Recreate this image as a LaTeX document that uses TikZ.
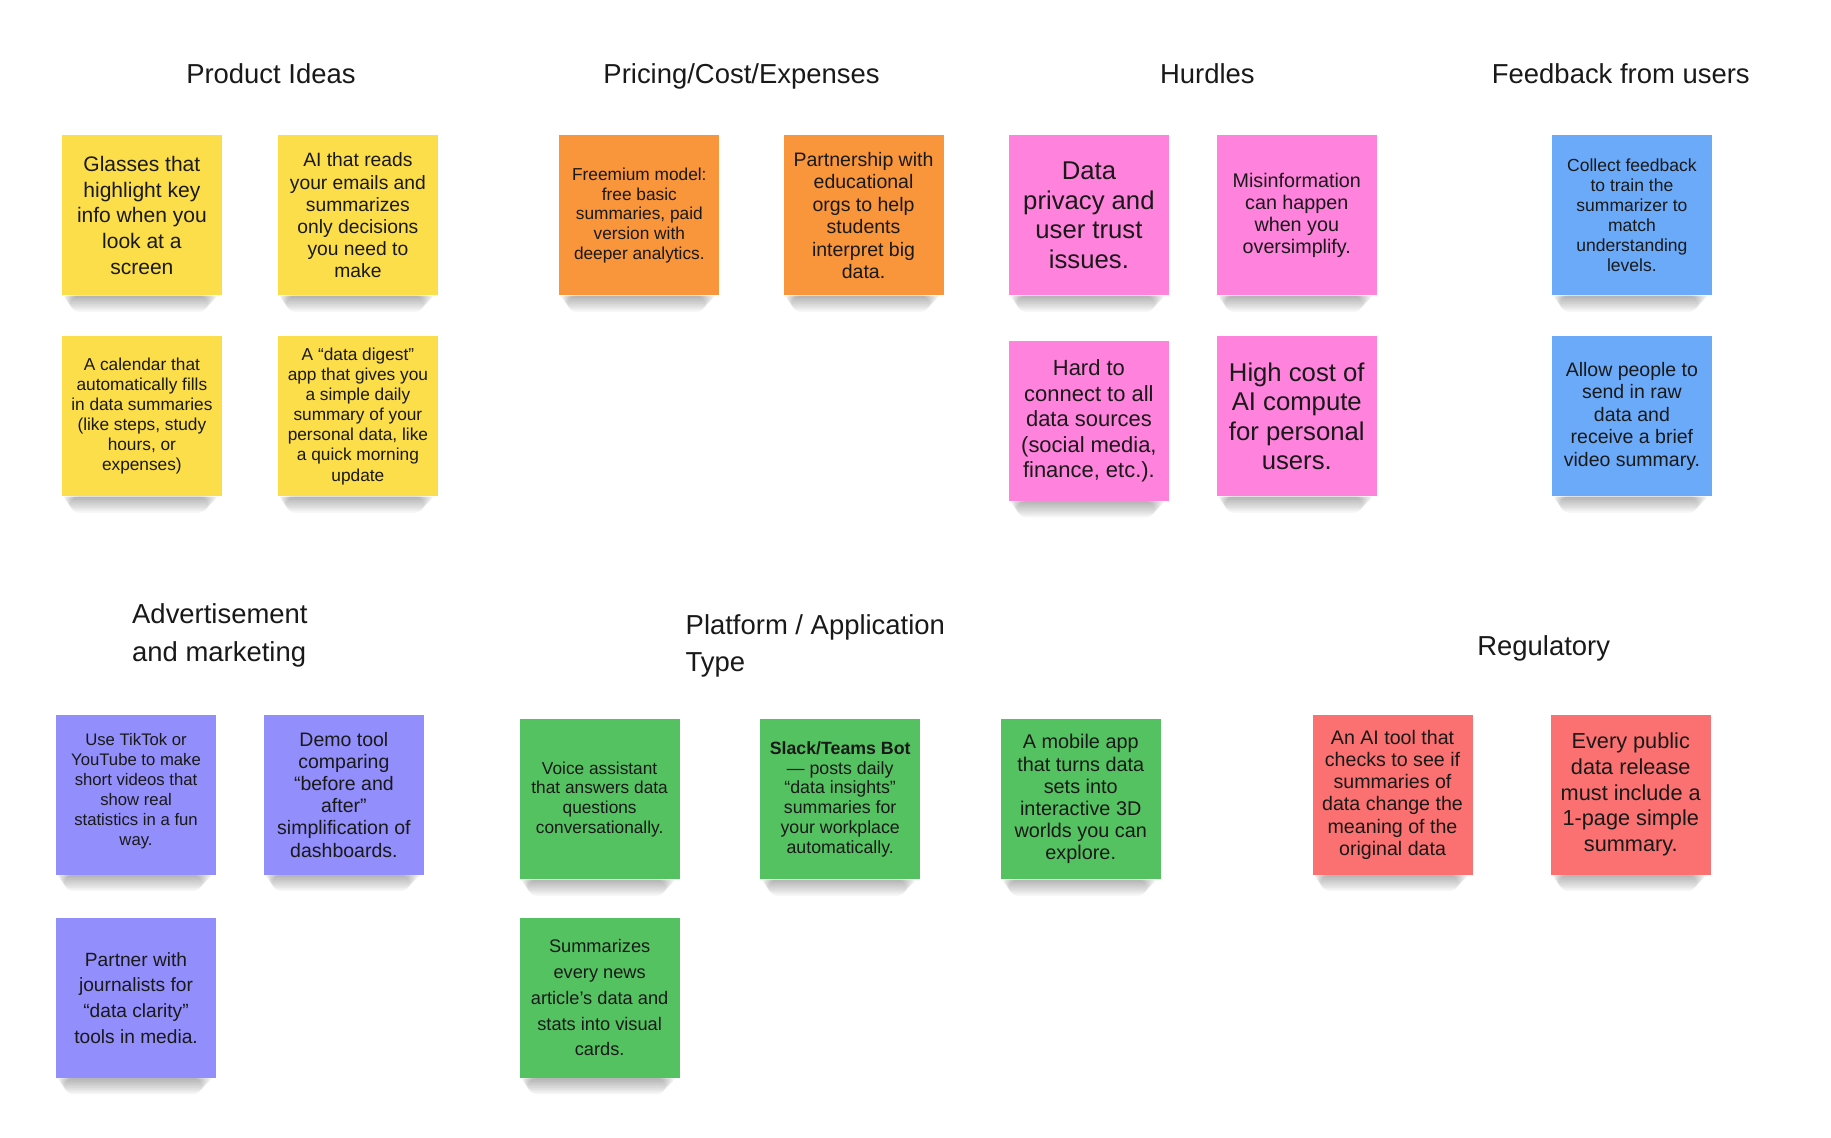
\documentclass[tikz,border=0pt]{standalone}
\usepackage{fontspec}
\setmainfont{Liberation Sans}
\usetikzlibrary{backgrounds}

\definecolor{stickyyellow}{HTML}{FCDE4A}
\definecolor{stickyorange}{HTML}{F9953A}
\definecolor{stickypink}{HTML}{FF82DC}
\definecolor{stickyblue}{HTML}{6AAAF9}
\definecolor{stickyviolet}{HTML}{928EFB}
\definecolor{stickygreen}{HTML}{55C262}
\definecolor{stickyred}{HTML}{FB7070}

\newcommand{\fs}[2]{\fontsize{#1}{#2}\selectfont}

\begin{document}
\begin{tikzpicture}[x=1pt,y=-1pt,
  sticky/.style={minimum width=137pt,minimum height=137pt,inner sep=0pt,align=center,text=black!90},
  heading/.style={font=\fs{23.5}{32},text=black!90,inner sep=0pt}]
\useasboundingbox (0,0) rectangle (1568,973.7);

% Headings
\node[heading,anchor=base] (hprod) at (232,71.4) {Product Ideas};
\node[heading,anchor=base] (hprice) at (635,71.4) {Pricing/Cost/Expenses};
\node[heading,anchor=base] (hhurdle) at (1034,71.4) {Hurdles};
\node[heading,anchor=base] (hfeed) at (1388,71.4) {Feedback from users};
\node[heading,anchor=west,align=left] (hadvert) at (113,544) {Advertisement\\and marketing};
\node[heading,anchor=west,align=left] (hplat) at (587,553) {Platform / Application\\Type};
\node[heading,anchor=base] (hreg) at (1322,561.4) {Regulatory};

% Product ideas
\node[sticky,fill=stickyyellow,font=\fs{18}{22}] (glasses) at (121.5,184.5) {Glasses that\\highlight key\\info when you\\look at a\\screen};
\node[sticky,fill=stickyyellow,font=\fs{16.5}{19}] (emails) at (306.5,184.5) {AI that reads\\your emails and\\summarizes\\only decisions\\you need to\\make};
\node[sticky,fill=stickyyellow,font=\fs{14.8}{17.2}] (calendar) at (121.5,356.5) {A calendar that\\automatically fills\\in data summaries\\(like steps, study\\hours, or\\expenses)};
\node[sticky,fill=stickyyellow,font=\fs{14.8}{17.2}] (digest) at (306.5,356.5) {A “data digest”\\app that gives you\\a simple daily\\summary of your\\personal data, like\\a quick morning\\update};

% Pricing
\node[sticky,fill=stickyorange,font=\fs{14.8}{17}] (freemium) at (547.5,184.5) {Freemium model:\\free basic\\summaries, paid\\version with\\deeper analytics.};
\node[sticky,fill=stickyorange,font=\fs{16.7}{19.2}] (partner) at (739.5,184.5) {Partnership with\\educational\\orgs to help\\students\\interpret big\\data.};

% Hurdles
\node[sticky,fill=stickypink,font=\fs{22}{25.3}] (privacy) at (932.5,184.5) {Data\\privacy and\\user trust\\issues.};
\node[sticky,fill=stickypink,font=\fs{16.9}{19}] (misinfo) at (1110.5,184.5) {Misinformation\\can happen\\when you\\oversimplify.};
\node[sticky,fill=stickypink,font=\fs{18.8}{21.8}] (sources) at (932.5,360.5) {Hard to\\connect to all\\data sources\\(social media,\\finance, etc.).};
\node[sticky,fill=stickypink,font=\fs{22}{25}] (compute) at (1110.5,356.5) {High cost of\\AI compute\\for personal\\users.};

% Feedback
\node[sticky,fill=stickyblue,font=\fs{15}{17.2}] (collect) at (1397.5,184.5) {Collect feedback\\to train the\\summarizer to\\match\\understanding\\levels.};
\node[sticky,fill=stickyblue,font=\fs{16.7}{19.2}] (rawdata) at (1397.5,356.5) {Allow people to\\send in raw\\data and\\receive a brief\\video summary.};

% Advertisement
\node[sticky,fill=stickyviolet,font=\fs{14.3}{17}] (tiktok) at (116.5,680.5) {Use TikTok or\\YouTube to make\\short videos that\\show real\\statistics in a fun\\way.\\[-8pt]};
\node[sticky,fill=stickyviolet,font=\fs{16.7}{19}] (demo) at (294.5,680.5) {Demo tool\\comparing\\“before and\\after”\\simplification of\\dashboards.};
\node[sticky,fill=stickyviolet,font=\fs{16.4}{22}] (journal) at (116.5,854.5) {Partner with\\journalists for\\“data clarity”\\tools in media.};

% Platform
\node[sticky,fill=stickygreen,font=\fs{14.8}{17}] (voice) at (513.5,684.5) {Voice assistant\\that answers data\\questions\\conversationally.};
\node[sticky,fill=stickygreen,font=\fs{15.2}{17}] (slack) at (719.5,684.5) {\textbf{Slack/Teams Bot}\\— posts daily\\“data insights”\\summaries for\\your workplace\\automatically.};
\node[sticky,fill=stickygreen,font=\fs{17}{19}] (mobile) at (925.5,684.5) {A mobile app\\that turns data\\sets into\\interactive 3D\\worlds you can\\explore.};
\node[sticky,fill=stickygreen,font=\fs{15.6}{22}] (news) at (513.5,854.5) {Summarizes\\every news\\article’s data and\\stats into visual\\cards.};

% Regulatory
\node[sticky,fill=stickyred,font=\fs{16.8}{19}] (checker) at (1192.5,680.5) {An AI tool that\\checks to see if\\summaries of\\data change the\\meaning of the\\original data};
\node[sticky,fill=stickyred,font=\fs{18.6}{22}] (release) at (1396.5,680.5) {Every public\\data release\\must include a\\1-page simple\\summary.};

% Shadows under the stickies
\begin{scope}[on background layer]
\fill[white] (0,0) rectangle (1568,973.7);
\foreach \n in {glasses,emails,calendar,digest,freemium,partner,privacy,misinfo,sources,compute,collect,rawdata,tiktok,demo,journal,voice,slack,mobile,news,checker,release}
  \foreach \i in {1,...,10}
    \fill[black,opacity=0.032,rounded corners={0.8*\i*1pt}] ([xshift={(1+0.6*\i)*1pt}]\n.south west) rectangle ([xshift={-(3+0.9*\i)*1pt},yshift={-1.4*\i*1pt}]\n.south east);
\end{scope}
\end{tikzpicture}
\end{document}
